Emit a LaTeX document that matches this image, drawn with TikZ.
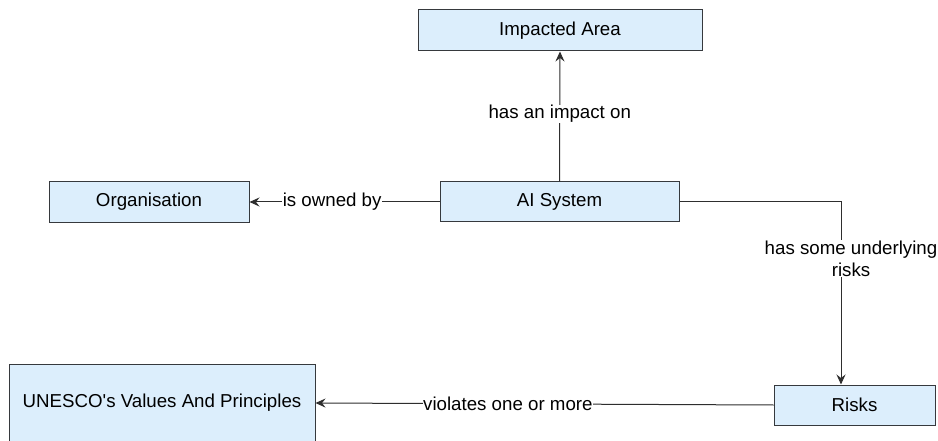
\documentclass[tikz,border=0pt]{standalone}
\usetikzlibrary{arrows.meta}
\font\dfont="Liberation Sans" at 18.7pt
\newcommand\lblfont{\dfont\baselineskip=22pt\relax}
\definecolor{boxfill}{HTML}{DCEEFC}
\definecolor{boxline}{HTML}{36393D}
\definecolor{connc}{HTML}{2E2E2E}
\begin{document}
\begin{tikzpicture}[x=1pt,y=-1pt,
  box/.style={draw=boxline, fill=boxfill, line width=1pt, inner sep=0pt, font=\dfont},
  conn/.style={draw=connc, line width=1pt, -{Stealth[length=10pt,width=9pt,inset=3.5pt]}},
  lbl/.style={fill=white, inner sep=0.5pt, font=\lblfont, text=black}]
\useasboundingbox[fill=white] (0,0) rectangle (938,441);
\node[box, minimum width=284pt, minimum height=41pt] (impact) at (560,30.5) {Impacted Area};
\node[box, minimum width=239pt, minimum height=40pt] (ai) at (559.5,202) {AI System};
\node[box, minimum width=200pt, minimum height=41pt] (org) at (149,202) {Organisation};
\node[box, minimum width=306pt, minimum height=78pt] (unesco) at (162,403) {UNESCO's Values And Principles};
\node[box, minimum width=161pt, minimum height=40pt] (risks) at (854.5,405) {Risks};
\coordinate (bend) at (841,202);
\draw[conn] (ai.north) -- node[lbl, pos=0.52]{has an impact on} (impact.south);
\draw[conn] (ai.west) -- node[lbl, pos=0.565]{is owned by} (org.east);
\draw[conn] (ai.east) -- (bend) -- node[lbl, align=center, pos=0.31, xshift=10pt]{has some underlying\\risks} (bend |- risks.north);
\draw[conn] (risks.west) -- node[lbl, pos=0.58]{violates one or more} (unesco.east);
\end{tikzpicture}
\end{document}
